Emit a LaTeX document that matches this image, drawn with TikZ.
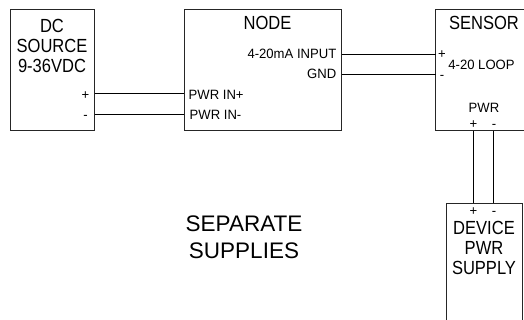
\documentclass[tikz,border=0pt]{standalone}
\usepackage{fontspec}
\setmainfont{Liberation Sans}
\newfontfamily\bigf[FakeStretch=0.87]{Liberation Sans}
\newfontfamily\smallf[FakeStretch=0.97]{Liberation Sans}
\newfontfamily\sepf[FakeStretch=1.0]{Liberation Sans}
\tikzset{
  boxline/.style={draw=black!85,line width=1pt},
  box/.style={boxline,rectangle,inner sep=0},
  wire/.style={draw=black,line width=1pt},
  small/.style={inner sep=0,anchor=base,font=\smallf\fontsize{13.5}{13.5}\selectfont},
  big/.style={inner sep=0,align=center,font=\bigf\fontsize{19}{19.6}\selectfont},
  sept/.style={inner sep=0,align=center,font=\sepf\fontsize{22.5}{27}\selectfont}
}
\begin{document}
\begin{tikzpicture}[x=1pt,y=-1pt]
\useasboundingbox[fill=white] (0,0) rectangle (524,320);
% boxes
\node[box,minimum width=83.5pt,minimum height=121pt] (dc) at (52.25,70.5) {};
\node[box,minimum width=157pt,minimum height=121pt] (nd) at (263,70.5) {};
\coordinate (st) at (435.5,10);
\coordinate (sb) at (435.5,131);
\coordinate (se1) at (524,10);
\coordinate (se2) at (524,131);
\draw[boxline] (se1) -- (st) -- (sb) -- (se2);
\coordinate (dt) at (446,203.5);
\coordinate (dtr) at (522.5,203.5);
\coordinate (db) at (446,320);
\coordinate (dbr) at (522.5,320);
\draw[boxline] (db) -- (dt) -- (dtr) -- (dbr);
% labels
\node[big] (dclabel) at (52,46) {DC\\SOURCE\\9-36VDC};
\node[small] (dp) at (85.5,100) {+};
\node[small] (dm) at (85.5,120) {-};
\node[small,anchor=base west] (pip) at (188.5,100) {PWR IN+};
\node[small,anchor=base west] (pim) at (189.5,120) {PWR IN-};
\node[big,anchor=base] (ndl) at (267.5,30) {NODE};
\node[small,anchor=base east] (inp) at (336.5,59) {4-20mA INPUT};
\node[small,anchor=base east] (gnd) at (336.5,79) {GND};
\node[big,anchor=base] (sl) at (484,30) {SENSOR};
\node[small] (sp) at (442,59) {+};
\node[small] (sm) at (442,79.5) {-};
\node[small] (loop) at (481.5,70) {4-20 LOOP};
\node[small] (pwr) at (484,113) {PWR};
\node[small] (pp) at (473.5,128.5) {+};
\node[small] (pm) at (494,128.5) {-};
\node[small] (dvp) at (473.5,215) {+};
\node[small] (dvm) at (494,215) {-};
\node[big] (dvl) at (484,248) {DEVICE\\PWR\\SUPPLY};
\node[sept] (sep) at (244,237) {SEPARATE\\SUPPLIES};
% wires
\coordinate (w1) at (nd.west |- 0,94);
\coordinate (w2) at (nd.west |- 0,114.5);
\coordinate (w3) at (st |- 0,54.5);
\coordinate (w4) at (st |- 0,75);
\draw[wire] (dc.east |- w1) -- (w1);
\draw[wire] (dc.east |- w2) -- (w2);
\draw[wire] (nd.east |- w3) -- (w3);
\draw[wire] (nd.east |- w4) -- (w4);
\draw[wire] (473.5,131) -- (473.5,203.5);
\draw[wire] (493.5,131) -- (493.5,203.5);
\end{tikzpicture}
\end{document}
